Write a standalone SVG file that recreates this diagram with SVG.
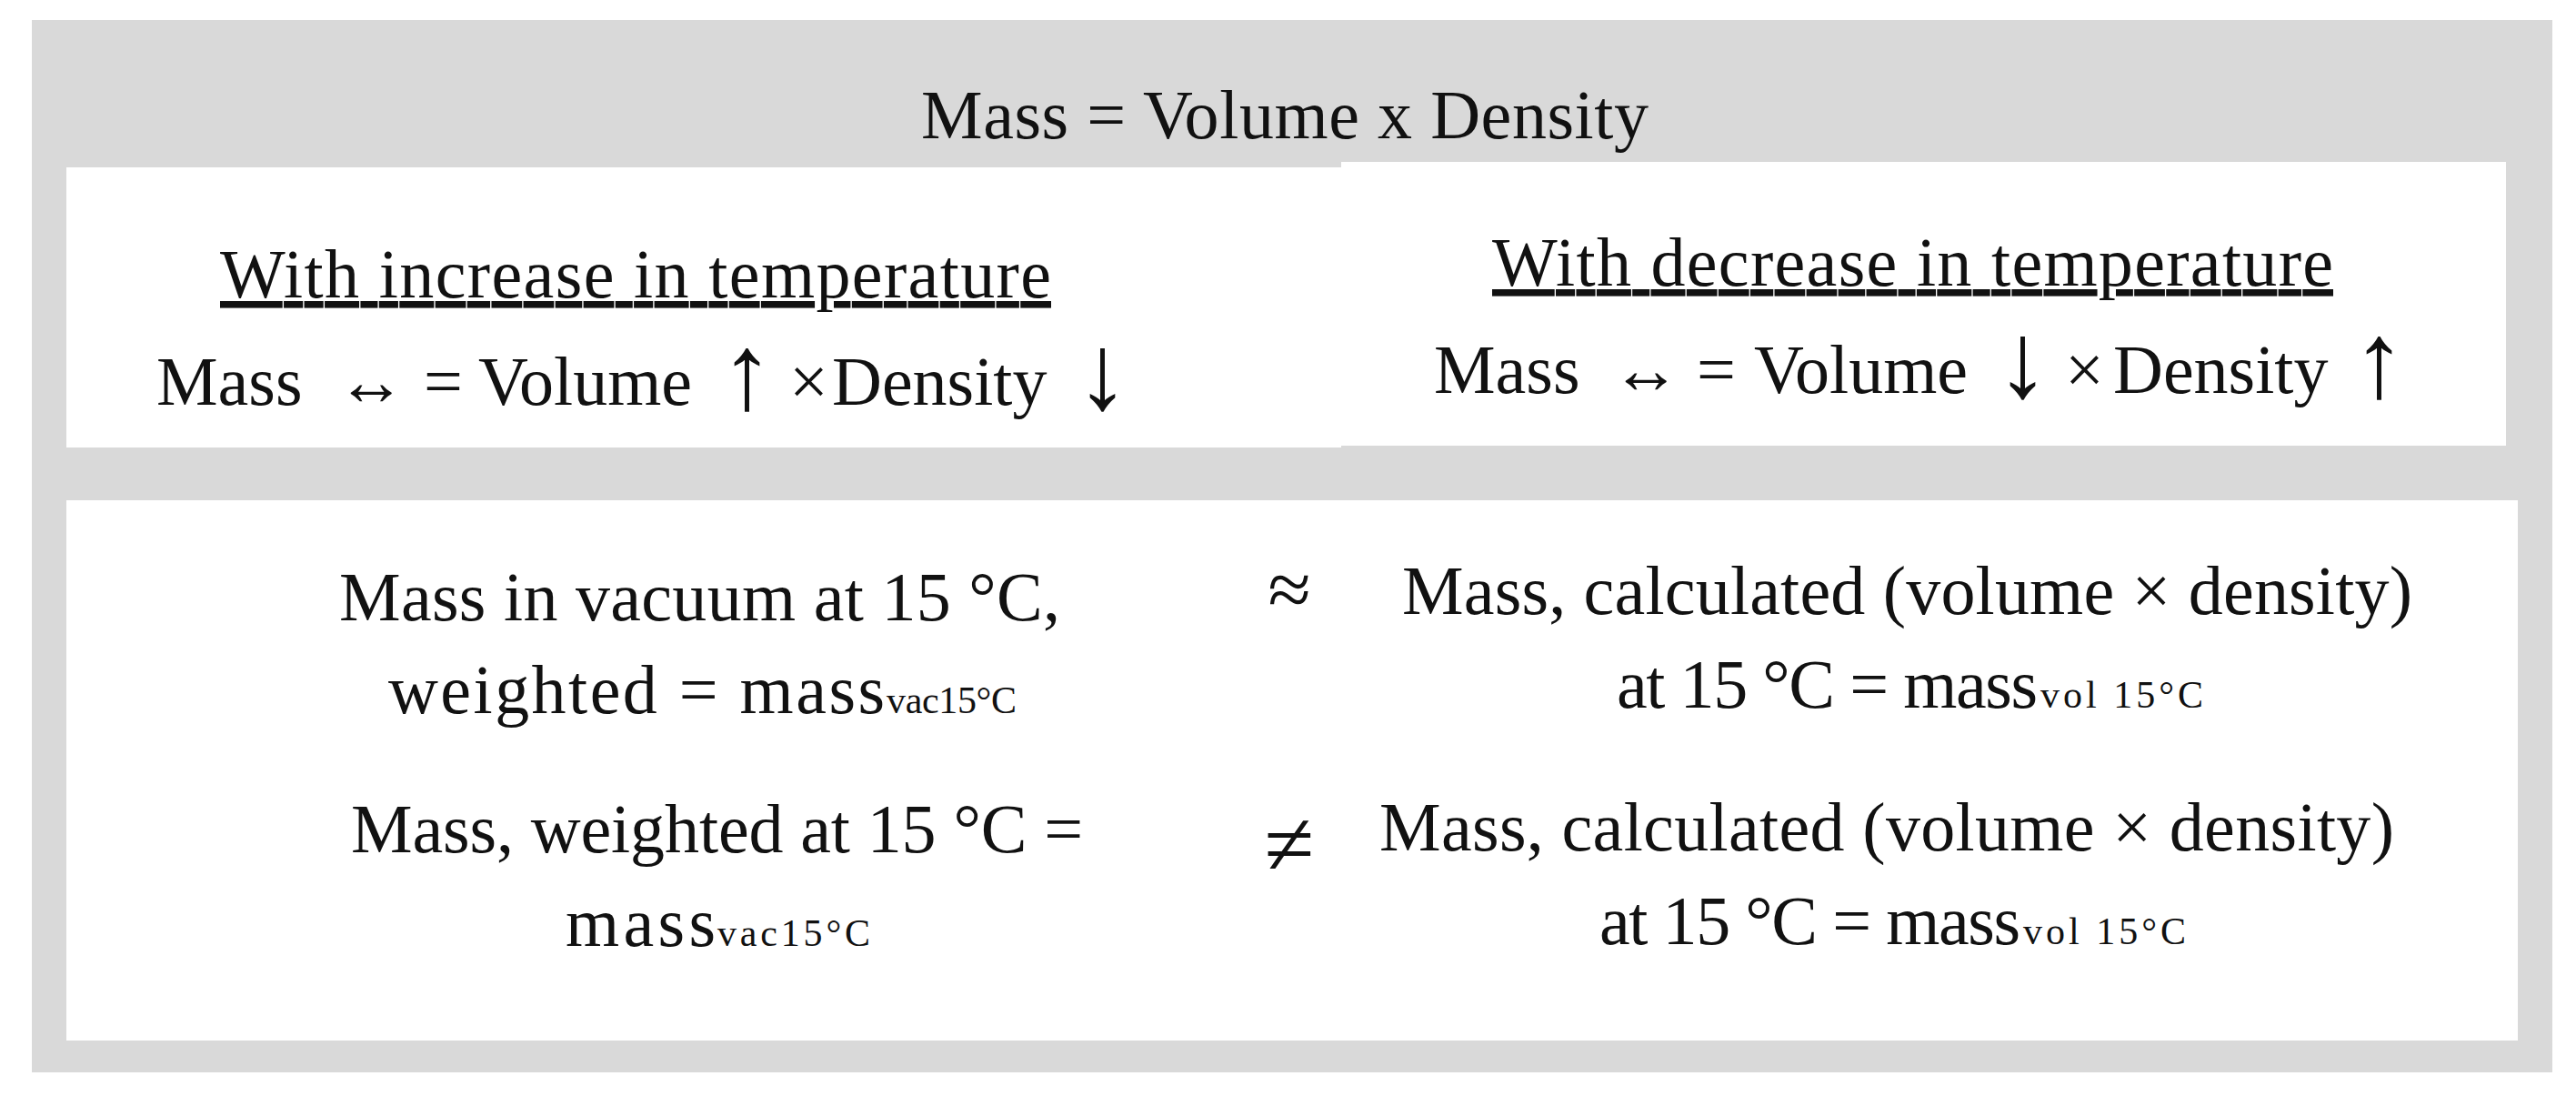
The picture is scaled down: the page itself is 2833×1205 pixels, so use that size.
<svg xmlns="http://www.w3.org/2000/svg" width="2833" height="1205" viewBox="0 0 2833 1205">
<style>
.t{font-family:"Liberation Serif","Times New Roman",serif;font-size:76px;fill:#111}
.s{font-family:"Liberation Serif","Times New Roman",serif;font-size:42px;fill:#111}
.op{font-family:"Liberation Serif","DejaVu Serif",serif;font-size:86px;fill:#111;text-anchor:middle}
.ar{font-size:118px}
.u{text-decoration:underline}
.box{fill:#ffffff}
</style>
<rect x="0" y="0" width="2833" height="1205" fill="#ffffff"/>
<g id="frame">
<rect x="35" y="22" width="2772" height="1157" fill="#d9d9d9"/>
</g>
<g id="title">
<text class="t" x="1013" y="152" textLength="800">Mass = Volume x Density</text>
</g>
<g id="temperature-panel">
<rect class="box" x="73" y="184" width="1402" height="308"/>
<rect class="box" x="1475" y="178" width="1281" height="312"/>
<g id="increase">
<text class="t u" x="242" y="327" textLength="914">With increase in temperature</text>
<text class="t" y="445"><tspan x="172">Mass</tspan><tspan x="370">↔</tspan><tspan x="466">=</tspan><tspan x="526">Volume</tspan><tspan class="ar" x="792" y="449">↑</tspan><tspan x="868" y="445">×</tspan><tspan x="915">Density</tspan><tspan class="ar" x="1183" y="449">↓</tspan></text>
</g>
<g id="decrease">
<text class="t u" x="1641" y="314" textLength="925">With decrease in temperature</text>
<text class="t" y="432"><tspan x="1577">Mass</tspan><tspan x="1772">↔</tspan><tspan x="1866">=</tspan><tspan x="1929">Volume</tspan><tspan class="ar" x="2195" y="436">↓</tspan><tspan x="2271" y="432">×</tspan><tspan x="2324">Density</tspan><tspan class="ar" x="2587" y="436">↑</tspan></text>
</g>
</g>
<g id="comparison-panel">
<rect class="box" x="73" y="550" width="2696" height="594"/>
<g id="row1-left">
<text class="t" x="373" y="682" textLength="793">Mass in vacuum at 15 °C,</text>
<text class="t" x="427" y="784" textLength="546">weighted = mass</text>
<text class="s" x="975" y="784" textLength="143">vac15°C</text>
</g>
<g id="row1-op">
<text class="op" x="1418" y="677">≈</text>
</g>
<g id="row1-right">
<text class="t" x="1542" y="675" textLength="1111">Mass, calculated (volume × density)</text>
<text class="t" x="1778" y="778" textLength="463">at 15 °C = mass</text>
<text class="s" x="2244" y="778" textLength="179">vol 15°C</text>
</g>
<g id="row2-left">
<text class="t" x="386" y="937" textLength="805">Mass, weighted at 15 °C =</text>
<text class="t" x="622" y="1040" textLength="165">mass</text>
<text class="s" x="789" y="1040" textLength="168">vac15°C</text>
</g>
<g id="row2-op">
<text class="op" x="1418" y="962" style="font-size:100px">≠</text>
</g>
<g id="row2-right">
<text class="t" x="1517" y="935" textLength="1116">Mass, calculated (volume × density)</text>
<text class="t" x="1759" y="1038" textLength="463">at 15 °C = mass</text>
<text class="s" x="2225" y="1038" textLength="179">vol 15°C</text>
</g>
</g>
</svg>
